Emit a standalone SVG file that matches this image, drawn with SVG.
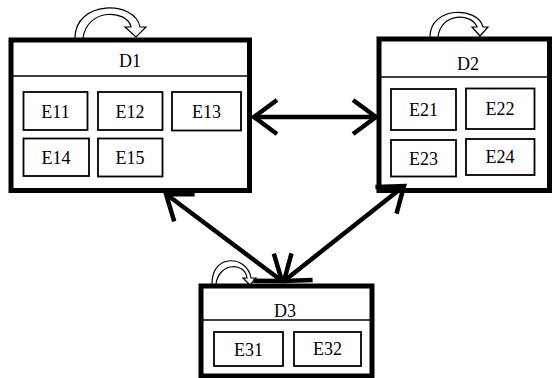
<svg xmlns="http://www.w3.org/2000/svg" width="553" height="378" viewBox="0 0 553 378">
<style>
.outer{fill:#fff;stroke:#000;stroke-width:5}
.div{stroke:#000;stroke-width:1.5;fill:none}
.ent{fill:#fff;stroke:#000;stroke-width:1.8}
.t{font-family:'Liberation Serif','Times New Roman','DejaVu Serif',serif;font-size:18px;fill:#000;text-anchor:middle}
.loop{fill:#fff;stroke:#000;stroke-width:1.2;stroke-linejoin:miter}
.conn{stroke:#000;stroke-width:4.5;fill:none}
</style>
<defs>
<marker id="ah" markerUnits="userSpaceOnUse" viewBox="-32 -24 36 48" markerWidth="36" markerHeight="48" refX="0" refY="0" orient="auto-start-reverse">
<path d="M-23,-17 L0,0 L-23,17" fill="none" stroke="#000" stroke-width="4.5" stroke-linejoin="miter"/>
</marker>
</defs>
<g id="D1">
<rect class="outer" x="11" y="40" width="238.5" height="150.5"/>
<line class="div" x1="13" y1="76" x2="247" y2="76"/>
<text class="t" font-family="Liberation Serif, serif" x="130" y="67">D1</text>
<path class="loop" d="M75,38 C75,0 135,0 140,27 L146,27 L136,37 L125,27 L131,27 C127,9 87,8 83,38 Z"/>
<g id="E11"><rect class="ent" x="23.5" y="92" width="64" height="38"/><text class="t" x="55.5" y="118">E11</text></g>
<g id="E12"><rect class="ent" x="98" y="92" width="64.5" height="38"/><text class="t" x="130" y="118">E12</text></g>
<g id="E13"><rect class="ent" x="172" y="92" width="69" height="38.5"/><text class="t" x="206.5" y="118">E13</text></g>
<g id="E14"><rect class="ent" x="23.5" y="138.5" width="65.5" height="37.5"/><text class="t" x="56" y="164">E14</text></g>
<g id="E15"><rect class="ent" x="98" y="138.5" width="64.5" height="38"/><text class="t" x="130" y="164">E15</text></g>
</g>
<g id="D2">
<rect class="outer" x="379" y="39" width="170.5" height="151.5"/>
<line class="div" x1="381" y1="77" x2="547" y2="77"/>
<text class="t" x="468" y="70">D2</text>
<path class="loop" d="M430,37 C430,6 478,6 483,27 L488,27 L480,36 L472,27 L477,27 C472,13 441,12 438,37 Z"/>
<g id="E21"><rect class="ent" x="391" y="89" width="65" height="41"/><text class="t" x="423.5" y="116">E21</text></g>
<g id="E22"><rect class="ent" x="466" y="88.5" width="68.5" height="40.5"/><text class="t" x="500" y="115">E22</text></g>
<g id="E23"><rect class="ent" x="391" y="140" width="65" height="36.5"/><text class="t" x="423.5" y="165">E23</text></g>
<g id="E24"><rect class="ent" x="466" y="139" width="68.5" height="36"/><text class="t" x="500" y="163">E24</text></g>
</g>
<g id="D3">
<rect class="outer" x="201" y="286" width="171" height="90"/>
<line class="div" x1="203" y1="320" x2="370" y2="320"/>
<text class="t" x="285" y="317">D3</text>
<path class="loop" d="M212,284 C212,252 248,256 251,278 L256,278 L250,285 L243,278 L247,278 C245,262 219,262 216,284 Z"/>
<g id="E31"><rect class="ent" x="214" y="332" width="69" height="34"/><text class="t" x="248.5" y="356">E31</text></g>
<g id="E32"><rect class="ent" x="294" y="332" width="67" height="34"/><text class="t" x="327.5" y="355">E32</text></g>
</g>
<g id="connectors">
<line class="conn" x1="254" y1="117" x2="376" y2="117" marker-start="url(#ah)" marker-end="url(#ah)"/>
<line class="conn" x1="166" y1="194" x2="282" y2="281" marker-start="url(#ah)" marker-end="url(#ah)"/>
<line class="conn" x1="404" y1="186" x2="284" y2="281" marker-start="url(#ah)" marker-end="url(#ah)"/>
</g>
</svg>
